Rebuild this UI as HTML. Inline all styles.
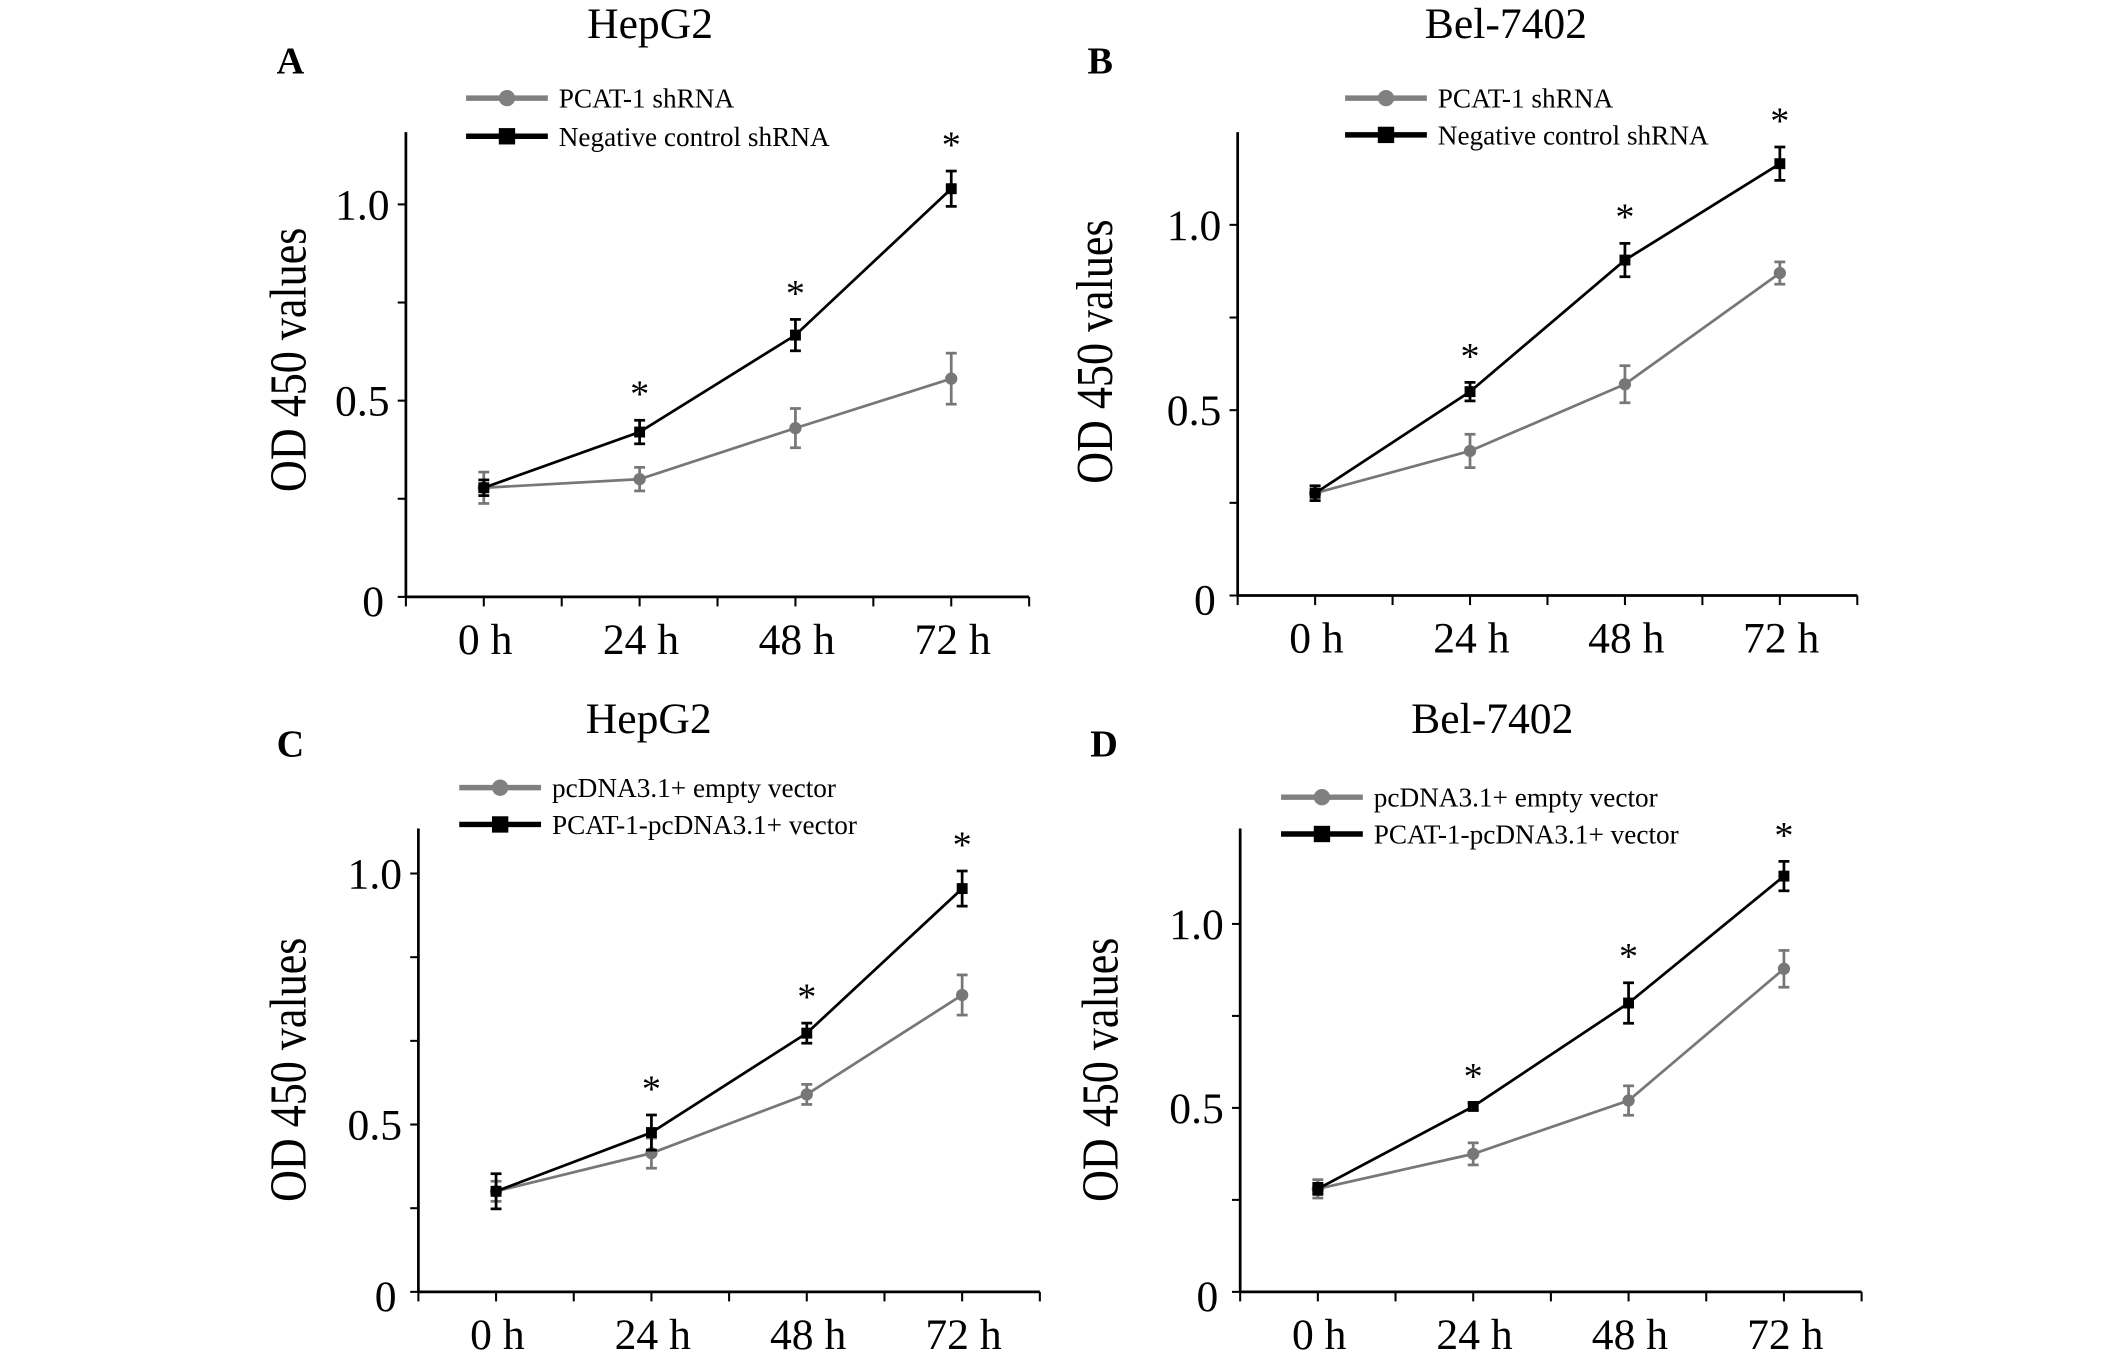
<!DOCTYPE html>
<html><head><meta charset="utf-8"><title>OD450 growth curves</title>
<style>html,body{margin:0;padding:0;background:#fff}svg{display:block}</style></head>
<body>
<svg id="fig" xmlns="http://www.w3.org/2000/svg" width="2126" height="1366" viewBox="0 0 1560 1002.4" preserveAspectRatio="none" font-family="'Liberation Serif', serif"></svg>
<script>
const categories = ["0 h", "24 h", "48 h", "72 h"];
// Panel A
const aGray = [0.278, 0.30, 0.43, 0.556];
const aGrayErr = [0.04, 0.03, 0.05, 0.065];
const aBlack = [0.278, 0.42, 0.667, 1.04];
const aBlackErr = [0.02, 0.03, 0.04, 0.045];
// Panel B
const bGray = [0.276, 0.39, 0.57, 0.87];
const bGrayErr = [0.02, 0.045, 0.05, 0.03];
const bBlack = [0.276, 0.55, 0.905, 1.165];
const bBlackErr = [0.02, 0.025, 0.045, 0.045];
// Panel C
const cGray = [0.367, 0.443, 0.56, 0.758];
const cGrayErr = [0.02, 0.03, 0.02, 0.04];
const cBlack = [0.367, 0.484, 0.682, 0.97];
const cBlackErr = [0.035, 0.035, 0.02, 0.035];
// Panel D
const dGray = [0.28, 0.375, 0.52, 0.878];
const dGrayErr = [0.025, 0.03, 0.04, 0.05];
const dBlack = [0.28, 0.504, 0.785, 1.13];
const dBlackErr = [0.015, 0.01, 0.055, 0.04];
const yTickValsStd = [0, 0.25, 0.5, 0.75, 1.0];
const yTickLabelsStd = ["0", "", "0.5", "", "1.0"];
const yTickValsC = [1/6, 1/3, 0.5, 2/3, 5/6, 1.0];
const yTickLabelsC = ["0", "", "0.5", "", "", "1.0"];

const NS = "http://www.w3.org/2000/svg";
const svg = document.getElementById("fig");
function mk(tag, attrs, parent, text) {
  const e = document.createElementNS(NS, tag);
  for (const k in attrs) e.setAttribute(k, attrs[k]);
  if (text !== undefined) e.textContent = text;
  (parent || svg).appendChild(e);
  return e;
}

function panel(p) {
  const g = mk("g", {});
  
  
  const yScale = v => p.y1px + (v - p.y1v) * (p.y0px - p.y1px) / (p.y0v - p.y1v);
  const step = (p.x72 - p.x0) / 3;
  const xScale = i => p.x0 + i * step;
  const axisL = xScale(-0.5), axisR = xScale(3.5);
  const bottom = yScale(p.y0v);
  const t = mk("text", {x: p.titleX, y: p.titleY, "font-size": 32, "text-anchor": "middle"}, g, p.title);
  
  
  const l = mk("text", {x: p.letterX, y: p.letterY, "font-size": 28, "font-weight": "bold"}, g, p.id);
  
  
  const ya = mk("line", {x1: axisL, y1: p.topPx, x2: axisL, y2: bottom, stroke: "#000", "stroke-width": 2}, g);
  
  
  const xa = mk("line", {x1: axisL, y1: bottom, x2: axisR, y2: bottom, stroke: "#000", "stroke-width": 2}, g);
  
  
  p.yTicks.forEach((v, i) => {
    const yy = yScale(v);
    mk("line", {x1: axisL - 6, y1: yy, x2: axisL, y2: yy, stroke: "#000", "stroke-width": 1.5}, g);
    const lab = p.yLabels[i];
    if (lab) {
      const ty = lab === "0" ? yy + 14 : yy + 11;
      const tl = mk("text", {x: axisL - (lab === "0" ? 16 : 12), y: ty, "font-size": 32, "text-anchor": "end"}, g, lab);
      
      
    }
  });
  for (let k = -0.5; k <= 3.5; k += 0.5) {
    mk("line", {x1: xScale(k), y1: bottom, x2: xScale(k), y2: bottom + 7, stroke: "#000", "stroke-width": 1.5}, g);
  }
  categories.forEach((c, i) => {
    const xl = mk("text", {x: xScale(i) + 1, y: bottom + 42, "font-size": 32, "text-anchor": "middle"}, g, c);
    
    
  });
  const yt = mk("text", {x: 0, y: 0, "font-size": 38, "text-anchor": "middle", textLength: 194, lengthAdjust: "spacingAndGlyphs", transform: `translate(${p.yTitleX},${p.yTitleY}) rotate(-90)`}, g, "OD 450 values");
  
  
  const lg = mk("g", {}, g);
  
  
  mk("line", {x1: p.legX, y1: p.legY1, x2: p.legX + 60, y2: p.legY1, stroke: "#808080", "stroke-width": 4}, lg);
  mk("circle", {cx: p.legX + 30, cy: p.legY1, r: 6, fill: "#808080"}, lg);
  mk("text", {x: p.legX + 68, y: p.legY1 + 7, "font-size": 20}, lg, p.leg1);
  mk("line", {x1: p.legX, y1: p.legY2, x2: p.legX + 60, y2: p.legY2, stroke: "#000", "stroke-width": 4}, lg);
  mk("rect", {x: p.legX + 24, y: p.legY2 - 6, width: 12, height: 12, fill: "#000"}, lg);
  mk("text", {x: p.legX + 68, y: p.legY2 + 7, "font-size": 20}, lg, p.leg2);
  function series(vals, errs, color, square, name) {
    const sg = mk("g", {}, g);
    
    
    const pts = vals.map((v, i) => xScale(i) + "," + yScale(v)).join(" ");
    mk("polyline", {points: pts, fill: "none", stroke: color, "stroke-width": 2}, sg);
    vals.forEach((v, i) => {
      const x = xScale(i), hi = yScale(v + errs[i]), lo = yScale(v - errs[i]);
      mk("line", {x1: x, y1: hi, x2: x, y2: lo, stroke: color, "stroke-width": 2}, sg);
      mk("line", {x1: x - 4, y1: hi, x2: x + 4, y2: hi, stroke: color, "stroke-width": 2}, sg);
      mk("line", {x1: x - 4, y1: lo, x2: x + 4, y2: lo, stroke: color, "stroke-width": 2}, sg);
      if (square) mk("rect", {x: x - 4, y: yScale(v) - 4, width: 8, height: 8, fill: color}, sg);
      else mk("circle", {cx: x, cy: yScale(v), r: 4.5, fill: color}, sg);
      if (square && i > 0) {
        const s = mk("text", {x: x, y: hi - 10, "font-size": 28, "text-anchor": "middle"}, sg, "*");
        
        
      }
    });
  }
  series(p.gray, p.grayErr, "#777", false, "series-gray");
  series(p.black, p.blackErr, "#000", true, "series-black");
}

panel({id: "A", title: "HepG2", titleX: 477, titleY: 28, letterX: 203, letterY: 54,
  x0: 355, x72: 698, topPx: 97, y1v: 1.0, y1px: 150, y0v: 0, y0px: 438,
  yTicks: yTickValsStd, yLabels: yTickLabelsStd, yTitleX: 224, yTitleY: 264,
  legX: 342, legY1: 72, legY2: 100, leg1: "PCAT-1 shRNA", leg2: "Negative control shRNA",
  gray: aGray, grayErr: aGrayErr, black: aBlack, blackErr: aBlackErr});
panel({id: "B", title: "Bel-7402", titleX: 1105, titleY: 28, letterX: 798, letterY: 54,
  x0: 965, x72: 1306, topPx: 97, y1v: 1.0, y1px: 165, y0v: 0, y0px: 437,
  yTicks: yTickValsStd, yLabels: yTickLabelsStd, yTitleX: 816, yTitleY: 258,
  legX: 987, legY1: 72, legY2: 99, leg1: "PCAT-1 shRNA", leg2: "Negative control shRNA",
  gray: bGray, grayErr: bGrayErr, black: bBlack, blackErr: bBlackErr});
panel({id: "C", title: "HepG2", titleX: 476, titleY: 538, letterX: 203, letterY: 555,
  x0: 364, x72: 706, topPx: 608, y1v: 1.0, y1px: 641, y0v: 1/6, y0px: 948,
  yTicks: yTickValsC, yLabels: yTickLabelsC, yTitleX: 224, yTitleY: 785,
  legX: 337, legY1: 578, legY2: 605, leg1: "pcDNA3.1+ empty vector", leg2: "PCAT-1-pcDNA3.1+ vector",
  gray: cGray, grayErr: cGrayErr, black: cBlack, blackErr: cBlackErr});
panel({id: "D", title: "Bel-7402", titleX: 1095, titleY: 538, letterX: 800, letterY: 555,
  x0: 967, x72: 1309, topPx: 608, y1v: 1.0, y1px: 678, y0v: 0, y0px: 948,
  yTicks: yTickValsStd, yLabels: yTickLabelsStd, yTitleX: 820, yTitleY: 785,
  legX: 940, legY1: 585, legY2: 612, leg1: "pcDNA3.1+ empty vector", leg2: "PCAT-1-pcDNA3.1+ vector",
  gray: dGray, grayErr: dGrayErr, black: dBlack, blackErr: dBlackErr});
</script>
</body></html>
